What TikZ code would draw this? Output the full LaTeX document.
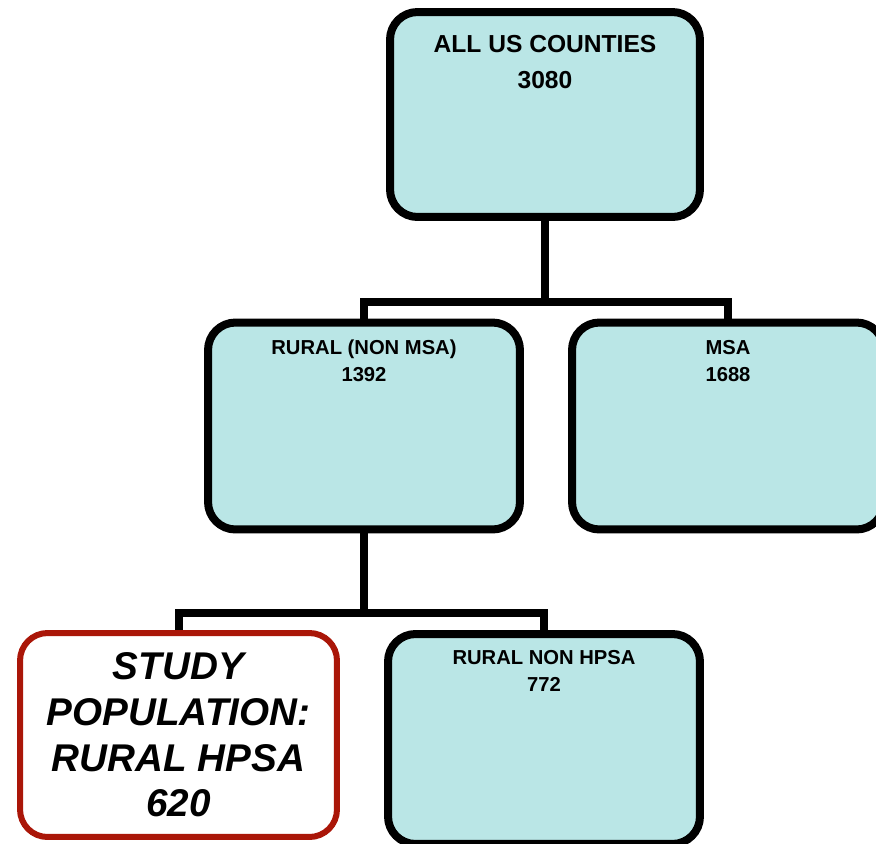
\documentclass[tikz,border=0pt]{standalone}
\usepackage{fontspec}
\setmainfont{Liberation Sans}
\usepackage{tikz}

\definecolor{boxcyan}{RGB}{186,230,230}
\definecolor{studyred}{RGB}{170,22,8}

\tikzset{
  box/.style={draw=black, line width=8*0.02cm, fill=boxcyan, rounded corners=0.55cm,
    minimum width=6.2cm, minimum height=4.14cm, inner sep=0pt},
  studybox/.style={box, draw=studyred, line width=6*0.02cm, fill=white},
  boxtext/.style={align=center, inner sep=0pt, font=\bfseries\fontsize{11.5}{15.5}\selectfont},
  link/.style={line width=8*0.02cm}
}

\begin{document}
\begin{tikzpicture}[x=0.02cm, y=-0.02cm]

\useasboundingbox (0,0) rectangle (876,843);

\node[box, minimum height=4.1cm] (all) at (545,114.5) {};
\node[box, minimum width=6.24cm] (rural) at (364,426) {};
\node[box, minimum width=6.24cm] (msa) at (728,426) {};
\node[studybox, minimum width=6.34cm, minimum height=4.08cm] (study) at (178.5,735) {};
\node[box, minimum width=6.24cm, minimum height=4.2cm] (nonhpsa) at (544,739) {};

\node[boxtext, font=\bfseries\fontsize{14}{20}\selectfont] (allt) at (545,62) {ALL US COUNTIES\\3080};
\node[boxtext] (ruralt) at (364,361) {RURAL (NON MSA)\\1392};
\node[boxtext] (msat) at (728,361) {MSA\\1688};
\node[boxtext] (nonhpsat) at (544,671) {RURAL NON HPSA\\772};
\node[align=center, inner sep=0pt, font=\bfseries\itshape\fontsize{22}{26}\selectfont] (studyt) at (178.5,735)
  {STUDY\\POPULATION:\\RURAL HPSA\\620};

\coordinate (bar1) at (545,302);
\coordinate (bar2) at (364,613);

\draw[link] (all.south) -- (bar1);
\draw[link] (rural.north) |- (bar1) -| (msa.north);
\draw[link] (rural.south) -- (bar2);
\draw[link] (study.north) |- (bar2) -| (nonhpsa.north);

\end{tikzpicture}
\end{document}
